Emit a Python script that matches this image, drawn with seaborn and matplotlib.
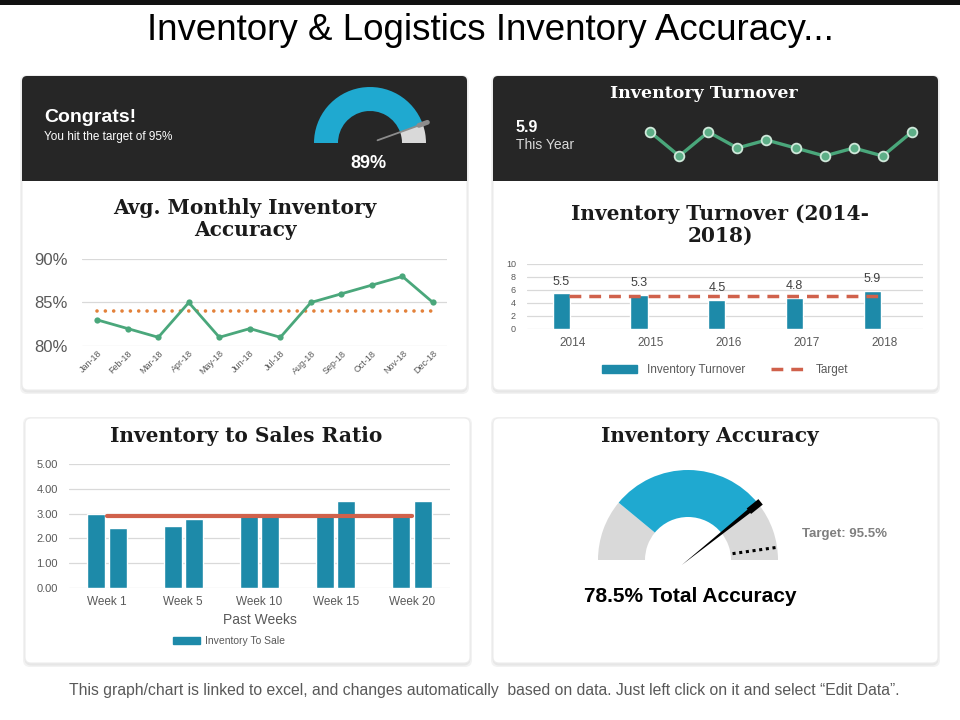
import numpy as np
import pandas as pd
import seaborn as sns
import matplotlib
matplotlib.use('Agg')
import matplotlib.pyplot as plt
from matplotlib.patches import FancyBboxPatch, Rectangle, Wedge, Polygon, Patch
from matplotlib.lines import Line2D

# ---- data ----
gauge_top_value = 89
gauge_top_target = 95

sparkline_values = [5.9, 5.3, 5.9, 5.5, 5.7, 5.5, 5.3, 5.5, 5.3, 5.9]
turnover_this_year = 5.9

months = ["Jan-18", "Feb-18", "Mar-18", "Apr-18", "May-18", "Jun-18",
          "Jul-18", "Aug-18", "Sep-18", "Oct-18", "Nov-18", "Dec-18"]
monthly_accuracy = [83, 82, 81, 85, 81, 82, 81, 85, 86, 87, 88, 85]
accuracy_target = 84

turnover_years = [2014, 2015, 2016, 2017, 2018]
turnover_values = [5.5, 5.3, 4.5, 4.8, 5.9]
turnover_target = 5

weeks = ["Week 1", "Week 5", "Week 10", "Week 15", "Week 20"]
ratio_first = [3.0, 2.5, 2.9, 3.0, 3.0]
ratio_second = [2.4, 2.8, 3.0, 3.5, 3.5]
ratio_target = 2.9

total_accuracy = 78.5
accuracy_low_band = 22
accuracy_goal = 95.5

# ---- style ----
DARK = "#262626"
TEAL = "#1d8aa9"
GAUGE_BLUE = "#1fa9d0"
GREEN = "#4aa77b"
ORANGE = "#e3813a"
RED = "#d0614b"
TXT = "#595959"
GRID = "#d9d9d9"
LIGHT = "#d9d9d9"
SERIF = ["DejaVu Serif"]

sns.set_theme(style="white")
plt.rcParams["font.family"] = ["Liberation Sans", "DejaVu Sans"]

W, H = 960, 720
fig = plt.figure(figsize=(9.6, 7.2), dpi=100)
fig.patch.set_facecolor("white")

# background axes in pixel units (y down)
bg = fig.add_axes([0, 0, 1, 1])
bg.set_xlim(0, W)
bg.set_ylim(H, 0)
bg.axis("off")


def px_axes(x0, y0, x1, y1):
    ax = fig.add_axes([x0 / W, 1 - y1 / H, (x1 - x0) / W, (y1 - y0) / H])
    ax.set_facecolor("none")
    return ax


def card(x0, y0, x1, y1, header=None):
    for off, col in [(3, "#f2f2f2"), (1.5, "#e6e6e6")]:
        bg.add_patch(FancyBboxPatch((x0 - off + 1, y0 - off + 2), x1 - x0 + 2 * off - 2,
                                    y1 - y0 + 2 * off - 1,
                                    boxstyle="round,pad=0,rounding_size=7",
                                    fc=col, ec="none"))
    bg.add_patch(FancyBboxPatch((x0, y0), x1 - x0, y1 - y0,
                                boxstyle="round,pad=0,rounding_size=6",
                                fc="white", ec="#ececec", lw=0.8))
    if header:
        bg.add_patch(FancyBboxPatch((x0, y0), x1 - x0, header - y0,
                                    boxstyle="round,pad=0,rounding_size=5",
                                    fc=DARK, ec="none"))
        bg.add_patch(Rectangle((x0, header - 10), x1 - x0, 10, fc=DARK, ec="none"))


bg.add_patch(Rectangle((0, 0), W, 5, fc="#111111", ec="none"))
card(22, 76, 467, 390, header=181)
card(493, 76, 938, 390, header=181)
card(25, 418, 470, 663)
card(493, 418, 938, 663)

# ---- texts ----
bg.text(490, 31, "Inventory & Logistics Inventory Accuracy...", fontsize=26.5,
        ha="center", va="center", color="black")
bg.text(484, 691, "This graph/chart is linked to excel, and changes automatically  based on data. "
        "Just left click on it and select \u201cEdit Data\u201d.", fontsize=11.3,
        ha="center", va="center", color=TXT)

bg.text(44, 118, "Congrats!", fontsize=14, fontweight="bold", color="white", va="center")
bg.text(44, 137, f"You hit the target of {gauge_top_target}%", fontsize=8.5, color="white", va="center")
bg.text(368, 164, f"{gauge_top_value}%", fontsize=13, fontweight="bold", color="white",
        ha="center", va="center")

bg.text(704, 93, "Inventory Turnover", fontsize=12.5, fontweight="bold", family=SERIF,
        color="white", ha="center", va="center")
bg.text(516, 127, f"{turnover_this_year}", fontsize=11.5, fontweight="bold", color="white", va="center")
bg.text(516, 145, "This Year", fontsize=10, color="#d9d9d9", va="center")

bg.text(245, 219, "Avg. Monthly Inventory\nAccuracy", fontsize=14.5, fontweight="bold",
        family=SERIF, ha="center", va="center", linespacing=1.15, color="#1a1a1a")
bg.text(720, 225, "Inventory Turnover (2014-\n2018)", fontsize=14.5, fontweight="bold",
        family=SERIF, ha="center", va="center", linespacing=1.15, color="#1a1a1a")
bg.text(246, 436, "Inventory to Sales Ratio", fontsize=14.5, fontweight="bold",
        family=SERIF, ha="center", va="center", color="#1a1a1a")
bg.text(710, 436, "Inventory Accuracy", fontsize=14.5, fontweight="bold",
        family=SERIF, ha="center", va="center", color="#1a1a1a")
bg.text(845, 534, f"Target: {accuracy_goal}%", fontsize=9.5, fontweight="bold",
        color="#7f7f7f", ha="center", va="center")
bg.text(690, 597, f"{total_accuracy}% Total Accuracy", fontsize=15, fontweight="bold",
        color="black", ha="center", va="center")

# ---- gauge top-left ----
ax = px_axes(300, 80, 440, 175)
ax.set_xlim(-70, 70)
ax.set_ylim(-32, 63)
ax.axis("off")
ang = 180 - gauge_top_value * 1.8
ax.add_patch(Wedge((0, 0), 56, ang, 180, width=24, fc=GAUGE_BLUE, ec="none"))
ax.add_patch(Wedge((0, 0), 56, 0, ang, width=24, fc=LIGHT, ec="none"))
u = np.array([np.cos(np.radians(ang)), np.sin(np.radians(ang))])
ax.plot([8 * u[0], 61 * u[0]], [8 * u[1], 61 * u[1]], color="#8c8c8c", lw=1.3)
ax.plot([52 * u[0], 61 * u[0]], [52 * u[1], 61 * u[1]], color="#8c8c8c", lw=3.5)

# ---- sparkline ----
ax = px_axes(640, 120, 922, 168)
sns.lineplot(x=np.arange(len(sparkline_values)), y=sparkline_values, ax=ax, color=GREEN,
             lw=2.4, marker="o", markersize=7, markerfacecolor="#5dae87",
             markeredgecolor="#cfe8da", markeredgewidth=1.3)
ax.set_xlim(-0.35, len(sparkline_values) - 0.65)
ax.set_ylim(5.0, 6.2)
ax.axis("off")

# ---- avg monthly accuracy ----
ax = px_axes(82, 259, 447, 346)
pos = np.arange(len(months))
sns.lineplot(x=pos, y=[accuracy_target] * len(months), ax=ax, color=ORANGE, lw=2.6,
             linestyle=(0, (0.01, 2.3)), dash_capstyle="round")
sns.lineplot(x=pos, y=monthly_accuracy, ax=ax, color=GREEN, lw=2, marker="o",
             markersize=4.5, markeredgewidth=0)
ax.set_xlim(-0.5, len(months) - 0.54)
ax.set_ylim(80, 90)
ax.set_yticks([80, 85, 90], labels=["80%", "85%", "90%"])
ax.set_xticks(pos, labels=months)
ax.tick_params(axis="y", length=0, labelsize=12, labelcolor=TXT, pad=10)
ax.tick_params(axis="x", length=0, labelsize=6.5, labelcolor=TXT, pad=2)
for lab in ax.get_xticklabels():
    lab.set_rotation(45)
    lab.set_ha("right")
    lab.set_va("top")
    lab.set_rotation_mode("anchor")
ax.yaxis.grid(True, color=GRID, lw=0.9)
ax.set_axisbelow(True)
ax.set_xlabel("")
ax.set_ylabel("")
sns.despine(ax=ax, left=True, bottom=True)

# ---- turnover 2014-2018 ----
ax = px_axes(527, 264, 923, 329)
df_turn = pd.DataFrame({"year": turnover_years, "value": turnover_values})
sns.barplot(data=df_turn, x="year", y="value", native_scale=True, width=0.22,
            color=TEAL, saturation=1, ax=ax)
ax.bar_label(ax.containers[0], fmt="%.1f", padding=4, fontsize=9, color="#404040")
sns.lineplot(x=np.array(turnover_years) + 0.1, y=[turnover_target] * len(turnover_years),
             ax=ax, color=RED, lw=2.5, linestyle=(0, (3.4, 2.3)))
ax.set_xlim(turnover_years[0] - 0.44, turnover_years[-1] + 0.65)
ax.set_ylim(0, 10)
ax.set_yticks(range(0, 11, 2))
ax.set_xticks(np.array(turnover_years) + 0.15, labels=[str(y) for y in turnover_years])
ax.tick_params(axis="y", length=0, labelsize=6.5, labelcolor=TXT, pad=8)
ax.tick_params(axis="x", length=0, labelsize=8.5, labelcolor=TXT, pad=6)
ax.yaxis.grid(True, color=GRID, lw=0.9)
ax.set_axisbelow(True)
ax.set_xlabel("")
ax.set_ylabel("")
sns.despine(ax=ax, left=True, bottom=True)
handles = [Patch(color=TEAL, label="Inventory Turnover"),
           Line2D([], [], color=RED, lw=2.5, linestyle=(0, (3.4, 2.3)), label="Target")]
ax.legend(handles=handles, loc="center", bbox_to_anchor=(0.5, -0.63), ncol=2,
          frameon=False, fontsize=8.5, handlelength=3, columnspacing=2.2,
          labelcolor=TXT)

# ---- inventory to sales ratio ----
ax = px_axes(69, 464, 450, 588)
df_ratio = pd.DataFrame({"week": weeks * 2,
                         "ratio": ratio_first + ratio_second,
                         "series": ["a"] * len(weeks) + ["b"] * len(weeks)})
sns.barplot(data=df_ratio, x="week", y="ratio", hue="series", palette=[TEAL, TEAL],
            width=0.56, gap=0.15, saturation=1, legend=False, ax=ax)
sns.lineplot(x=np.arange(len(weeks)), y=[ratio_target] * len(weeks), ax=ax, color=RED,
             lw=3, zorder=3)
ax.set_xlim(-0.5, len(weeks) - 0.5)
ax.set_ylim(0, 5)
ax.set_yticks(range(0, 6), labels=[f"{v:.2f}" for v in range(0, 6)])
ax.tick_params(axis="y", length=0, labelsize=8, labelcolor=TXT, pad=8)
ax.tick_params(axis="x", length=0, labelsize=8.5, labelcolor=TXT, pad=6)
ax.yaxis.grid(True, color=GRID, lw=0.9)
ax.set_axisbelow(True)
ax.set_xlabel("Past Weeks", fontsize=10, color=TXT, labelpad=3)
ax.set_ylabel("")
sns.despine(ax=ax, left=True, bottom=True)
ax.legend(handles=[Patch(color=TEAL, label="Inventory To Sale")], loc="center",
          bbox_to_anchor=(0.42, -0.43), frameon=False, fontsize=7.5, handlelength=2.6,
          handletextpad=0.4, labelcolor=TXT)

# ---- inventory accuracy gauge ----
ax = px_axes(590, 460, 800, 575)
ax.set_xlim(-98, 112)
ax.set_ylim(-15, 100)
ax.axis("off")
a_low = 180 - accuracy_low_band * 1.8
a_val = 180 - total_accuracy * 1.8
a_goal = 180 - accuracy_goal * 1.8
ax.add_patch(Wedge((0, 0), 90, a_low, 180, width=47, fc=LIGHT, ec="none"))
ax.add_patch(Wedge((0, 0), 90, a_val, a_low, width=47, fc=GAUGE_BLUE, ec="none"))
ax.add_patch(Wedge((0, 0), 90, 0, a_val, width=47, fc=LIGHT, ec="none"))
t = np.radians(a_goal)
ax.plot([45 * np.cos(t), 90 * np.cos(t)], [45 * np.sin(t), 90 * np.sin(t)],
        color="black", lw=2.2, linestyle=(0, (1, 1.2)))
u = np.array([np.cos(np.radians(a_val)), np.sin(np.radians(a_val))])
n = np.array([-u[1], u[0]])
ax.add_patch(Polygon([-8 * u, 80 * u + 2.2 * n, 80 * u - 2.2 * n], fc="black", ec="none"))
ax.add_patch(Polygon([78 * u + 3.5 * n, 93 * u + 3.5 * n, 93 * u - 3.5 * n, 78 * u - 3.5 * n],
                     fc="black", ec="none"))

fig.savefig("out.png", dpi=100)
